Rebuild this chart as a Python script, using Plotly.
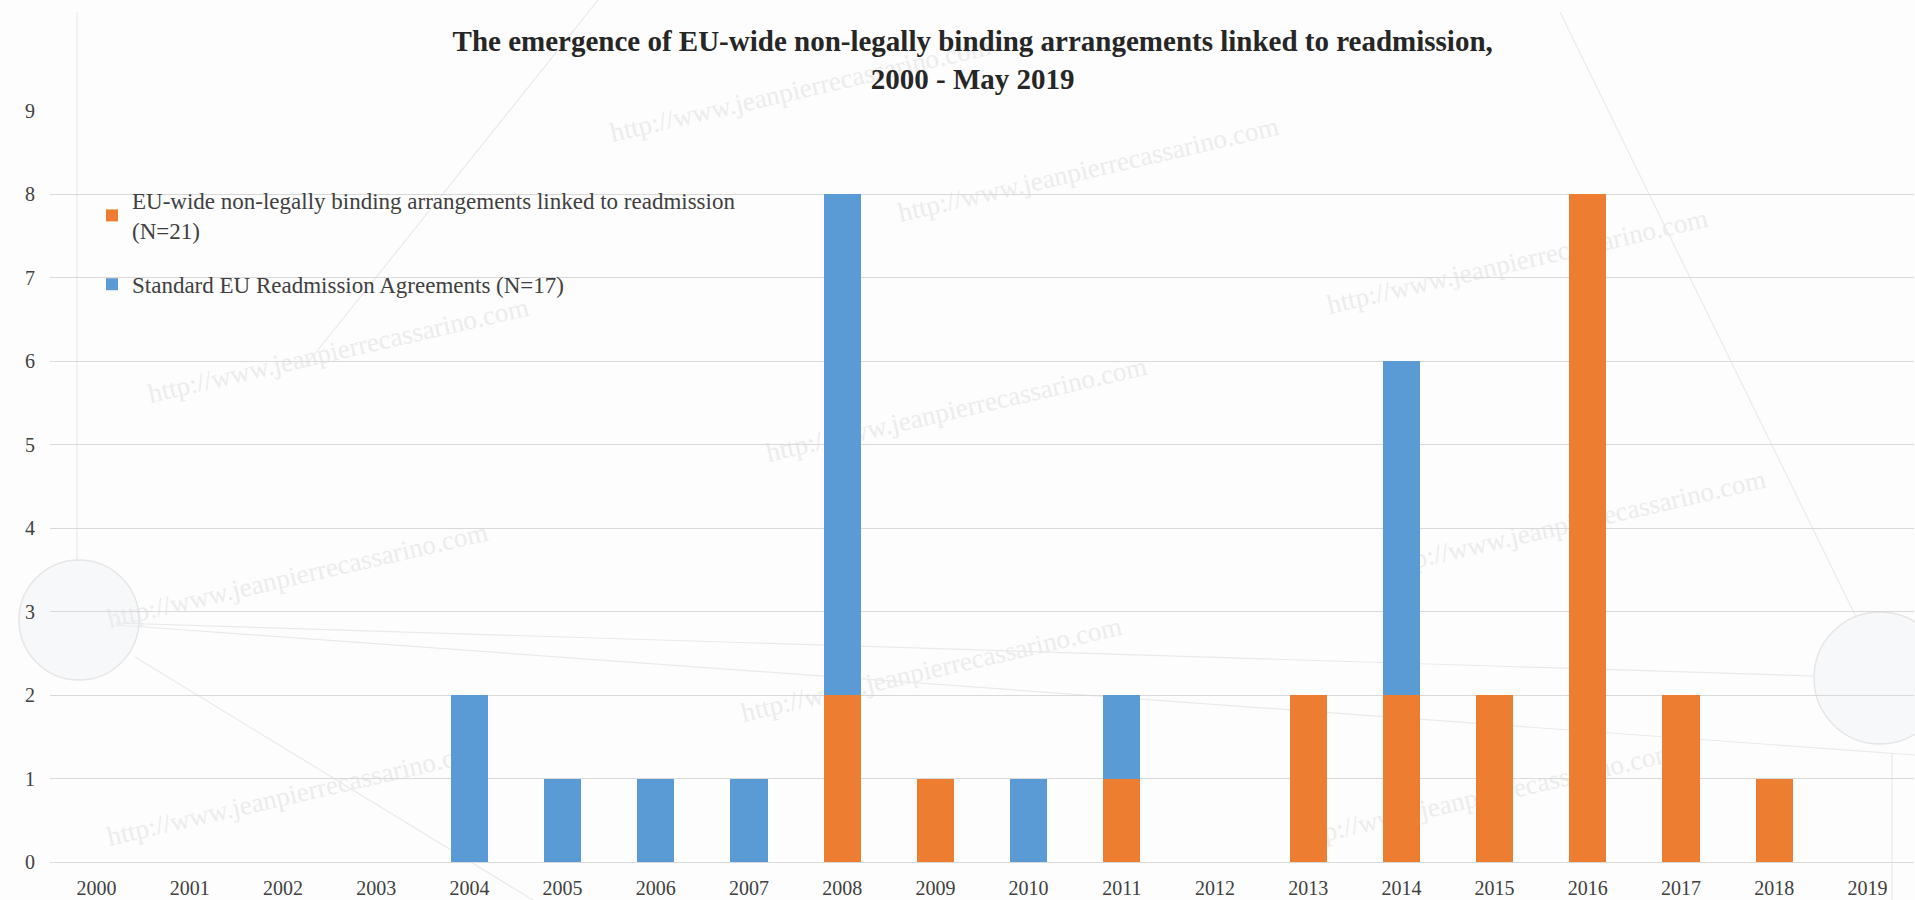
import math
import plotly.graph_objects as go

# ---- data -------------------------------------------------------------
years = ["2000", "2001", "2002", "2003", "2004", "2005", "2006", "2007", "2008", "2009",
         "2010", "2011", "2012", "2013", "2014", "2015", "2016", "2017", "2018", "2019"]

non_binding = [0, 0, 0, 0, 0, 0, 0, 0, 2, 1, 0, 1, 0, 2, 2, 2, 8, 2, 1, 0]
standard_eura = [0, 0, 0, 0, 2, 1, 1, 1, 6, 0, 1, 1, 0, 0, 4, 0, 0, 0, 0, 0]

name_non_binding = "EU-wide non-legally binding arrangements linked to readmission<br>(N=21)"
name_standard = "Standard EU Readmission Agreements (N=17)"

title_text = ("<b>The emergence of EU-wide non-legally binding arrangements linked to readmission,"
              "<br>2000 - May 2019</b>")

# ---- styling ----------------------------------------------------------
W, H = 1915, 900
M_L, M_R, M_T, M_B = 50, 1, 111, 38
SERIF = "Liberation Serif, Times New Roman, serif"
ORANGE = "#ED7D31"
BLUE = "#5B9BD5"
BG = "#FDFDFD"
GRID = "#D9D9D9"

plot_w = W - M_L - M_R
plot_h = H - M_T - M_B


def to_paper(px, py):
    """Convert page pixel position to paper coordinates."""
    return (px - M_L) / plot_w, (H - M_B - py) / plot_h


fig = go.Figure()
fig.add_trace(go.Bar(x=years, y=non_binding, name=name_non_binding,
                     marker=dict(color=ORANGE, line=dict(width=0)),
                     legendgroup="a"))
fig.add_trace(go.Bar(x=years, y=standard_eura, name=name_standard,
                     marker=dict(color=BLUE, line=dict(width=0)),
                     legendgroup="b"))

# ---- faint site watermark and background decoration --------------------
shapes = []
wm_text = "http://www.jeanpierrecassarino.com"
wm_centers = [(803, 104), (1091, 184), (1520, 276), (341, 365), (959, 424),
              (1578, 537), (300, 590), (934, 684), (300, 808), (1488, 810)]
ang = math.radians(13)
half = 260
for cx, cy in wm_centers:
    x0, y0 = to_paper(cx - half * math.cos(ang), cy + half * math.sin(ang))
    x1, y1 = to_paper(cx + half * math.cos(ang), cy - half * math.sin(ang))
    shapes.append(dict(type="line", xref="paper", yref="paper", x0=x0, y0=y0, x1=x1, y1=y1,
                       layer="below", line=dict(width=0, color="rgba(0,0,0,0)"),
                       label=dict(text=wm_text, textangle=-13, textposition="middle",
                                  font=dict(family=SERIF, size=27, color="#ECECEC"))))

deco_lines = [((116, 623), (1814, 676)), ((116, 625), (1915, 755)),
              ((1560, 12), (1856, 617)), ((598, 0), (305, 366)),
              ((135, 657), (533, 900)), ((1892, 753), (1892, 900)),
              ((77, 12), (77, 560))]
for (ax, ay), (bx, by) in deco_lines:
    x0, y0 = to_paper(ax, ay)
    x1, y1 = to_paper(bx, by)
    shapes.append(dict(type="line", xref="paper", yref="paper", x0=x0, y0=y0, x1=x1, y1=y1,
                       layer="below", line=dict(width=1.2, color="#EAEAEA")))

for cx, cy, r in [(79, 620, 60), (1880, 678, 66)]:
    x0, y0 = to_paper(cx - r, cy + r)
    x1, y1 = to_paper(cx + r, cy - r)
    shapes.append(dict(type="circle", xref="paper", yref="paper", x0=x0, y0=y0, x1=x1, y1=y1,
                       layer="below", line=dict(width=1.5, color="#E6E6E6"),
                       fillcolor="rgba(236,238,244,0.35)"))

fig.update_layout(
    width=W, height=H,
    margin=dict(l=M_L, r=M_R, t=M_T, b=M_B, pad=0),
    paper_bgcolor=BG,
    plot_bgcolor="rgba(0,0,0,0)",
    barmode="stack",
    bargap=0.6,
    font=dict(family=SERIF, color="#404040"),
    title=dict(text=title_text, x=0.495, xref="paper", xanchor="center",
               y=1 - 51 / H, yref="container", yanchor="top",
               font=dict(family=SERIF, size=29, color="#262626")),
    legend=dict(x=(92 - M_L) / plot_w, xanchor="left",
                y=1 - (179 - M_T) / plot_h, yanchor="top",
                bgcolor="rgba(0,0,0,0)", borderwidth=0,
                font=dict(family=SERIF, size=23, color="#404040"),
                traceorder="grouped", tracegroupgap=21),
    xaxis=dict(type="category", showgrid=False, showline=False, zeroline=False,
               ticks="", tickfont=dict(family=SERIF, size=20, color="#404040"),
               ticklabelstandoff=12),
    yaxis=dict(range=[0, 9], dtick=1, showgrid=True, gridcolor=GRID, gridwidth=1,
               zeroline=True, zerolinecolor=GRID, zerolinewidth=1, showline=False,
               ticks="", tickfont=dict(family=SERIF, size=20, color="#404040"),
               ticklabelstandoff=14),
    shapes=shapes,
    showlegend=True,
)

fig.write_html("out.html")
